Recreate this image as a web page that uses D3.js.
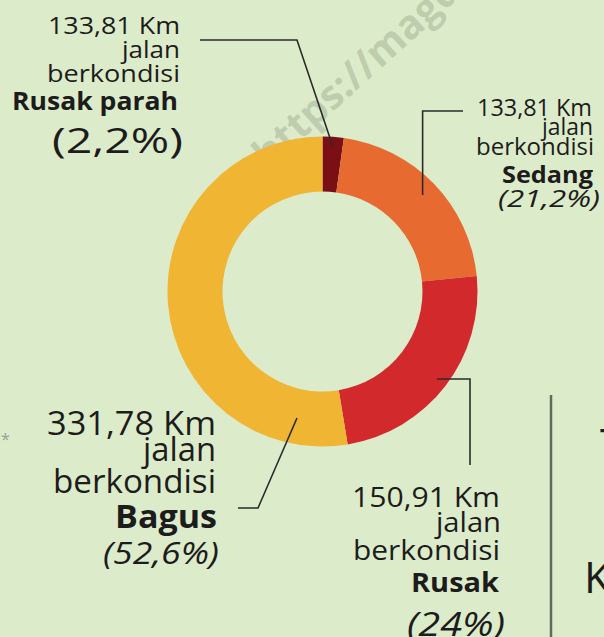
<!DOCTYPE html>
<html>
<head>
<meta charset="utf-8">
<script src="https://cdn.jsdelivr.net/npm/d3@7"></script>
<style>
  html, body { margin: 0; padding: 0; background: #dcebc9; }
  svg { display: block; font-family: "Open Sans", sans-serif; }
</style>
</head>
<body>
<div id="chart"></div>
<script>
// Data
const categories = ["Rusak parah", "Sedang", "Rusak", "Bagus"];
const kmValues = ["133,81", "133,81", "150,91", "331,78"];
const pctValues = [2.2, 21.2, 24, 52.6];
const colors = ["#7a0f16", "#e76a31", "#d1292c", "#f0b533"];

const width = 604, height = 637;
const cx = 322.5, cy = 291.5;

const svg = d3.select("#chart").append("svg")
    .attr("width", width)
    .attr("height", height);

svg.append("rect").attr("width", width).attr("height", height).attr("fill", "#dcebc9");

// watermark
svg.append("text")
    .attr("transform", "translate(268,170) rotate(-42)")
    .attr("font-size", 40)
    .attr("font-weight", "bold")
    .attr("fill", "#8a9480")
    .attr("fill-opacity", 0.35)
    .text("https://magdalene.co");

const pie = d3.pie().sort(null).value(d => d);
const arcs = pie(pctValues);

const arc = d3.arc().innerRadius(100).outerRadius(155);

const g = svg.append("g").attr("transform", `translate(${cx},${cy})`);

g.selectAll("path")
    .data(arcs)
    .enter()
    .append("path")
    .attr("d", arc)
    .attr("fill", (d, i) => colors[i]);

// leader lines
const leaders = [
    {r: 146, pts: s => [s, [297, 40], [200, 40]]},
    {r: 139, pts: s => [s, [s[0], 111], [463, 111]]},
    {r: 144, pts: s => [s, [470, s[1]], [470, 465]]},
    {r: 129, angle: 191.4, pts: s => [s, [258, 508], [238, 508]]}
];

const line = d3.line();
arcs.forEach((d, i) => {
    const L = leaders[i];
    const a = L.angle != null ? L.angle * Math.PI / 180 : (d.startAngle + d.endAngle) / 2;
    const s = [cx + L.r * Math.sin(a), cy - L.r * Math.cos(a)];
    svg.append("path")
        .attr("d", line(L.pts(s)))
        .attr("fill", "none")
        .attr("stroke", "#2b2b2b")
        .attr("stroke-width", 1.6);
});

// labels: right edge, baselines, font sizes, text widths (per line)
const fmtPct = v => "(" + String(v).replace(".", ",") + "%)";

const labelLayout = [
    {x: [180, 180, 180, 178, 183], base: [34, 58, 82, 110, 153], size: [24, 24, 24, 25, 35],
     w: [132, 58, 133, 166, 131], italic: false},
    {x: [592, 593, 594, 593, 600], base: [116, 135, 155, 183, 207], size: [23, 23, 23, 23, 24],
     w: [115, 51, 118, 91, 102], italic: true},
    {x: [500, 501, 500, 499, 505], base: [507, 532, 560, 592, 636], size: [27, 27, 27, 26, 32],
     w: [148, 65, 147, 88, 98], italic: true},
    {x: [216, 216, 216, 217, 219], base: [435, 461, 493, 528, 564], size: [32, 32, 32, 32, 31],
     w: [169, 73, 163, 102, 116], italic: true}
];

categories.forEach((name, i) => {
    const L = labelLayout[i];
    const lines = [kmValues[i] + " Km", "jalan", "berkondisi", name, fmtPct(pctValues[i])];
    lines.forEach((t, j) => {
        svg.append("text")
            .attr("x", L.x[j] - L.w[j])
            .attr("y", L.base[j])
            .attr("font-size", L.size[j])
            .attr("textLength", L.w[j])
            .attr("lengthAdjust", "spacingAndGlyphs")
            .attr("font-weight", j === 3 ? "bold" : 500)
            .attr("font-style", j === 4 && L.italic ? "italic" : "normal")
            .attr("fill", "#1c1c1c")
            .text(t);
    });
});

// right-side fragments
svg.append("line")
    .attr("x1", 551).attr("x2", 551)
    .attr("y1", 395).attr("y2", height)
    .attr("stroke", "#5f6b5b")
    .attr("stroke-width", 2.5);

svg.append("text")
    .attr("x", 584).attr("y", 593)
    .attr("font-size", 43)
    .attr("fill", "#1c1c1c")
    .text("K");

svg.append("text")
    .attr("x", 600).attr("y", 460)
    .attr("font-size", 43)
    .attr("fill", "#1c1c1c")
    .text("T");

svg.append("text")
    .attr("x", 1).attr("y", 445)
    .attr("font-size", 16)
    .attr("fill", "#9aa096")
    .text("*");
</script>
</body>
</html>
